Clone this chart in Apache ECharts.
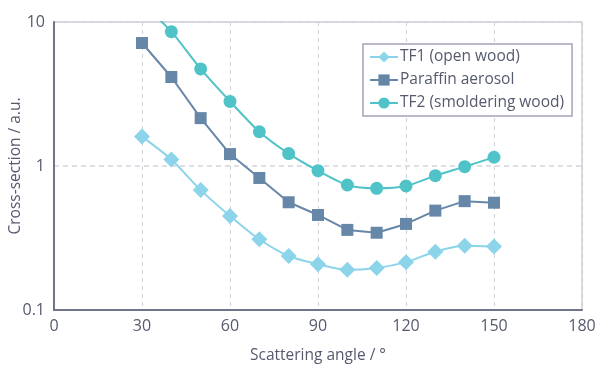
<!DOCTYPE html>
<html>
<head>
<meta charset="utf-8">
<script src="https://cdn.jsdelivr.net/npm/echarts@6/dist/echarts.min.js"></script>
<style>
  html, body { margin: 0; padding: 0; background: #fff; }
  #chart { width: 596px; height: 365px; }
</style>
</head>
<body>
<div id="chart"></div>
<script>
// scattering angles in degrees
const angles = [30, 40, 50, 60, 70, 80, 90, 100, 110, 120, 130, 140, 150];

// cross-section values (a.u.)
const tf1 = [1.6, 1.11, 0.68, 0.45, 0.31, 0.237, 0.208, 0.19, 0.196, 0.215, 0.254, 0.279, 0.276];
const paraffin = [7.15, 4.15, 2.15, 1.21, 0.826, 0.56, 0.457, 0.36, 0.344, 0.396, 0.49, 0.57, 0.556];
const tf2 = [13.5, 8.57, 4.72, 2.81, 1.73, 1.22, 0.928, 0.738, 0.70, 0.726, 0.857, 0.99, 1.15];

const seriesNames = ['TF1 (open wood)', 'Paraffin aerosol', 'TF2 (smoldering wood)'];
const xTicks = [0, 30, 60, 90, 120, 150, 180];
const yTicks = [0.1, 1, 10];

const textColor = '#555a6e';
const font = 'Open Sans';

function pairs(values) {
  return angles.map((a, i) => [a, values[i]]);
}

const myChart = echarts.init(document.getElementById('chart'));

const option = {
  animation: false,
  backgroundColor: '#fff',
  textStyle: {fontFamily: font},
  grid: {
    left: 54,
    right: 14,
    top: 22,
    bottom: 55,
    outerBoundsMode: 'none',
    containLabel: false,
    show: true,
    borderColor: '#cdcdd8',
    borderWidth: 1.5
  },
  legend: {
    orient: 'vertical',
    left: 363,
    top: 44,
    padding: [5, 8, 5, 6],
    itemGap: 7,
    itemWidth: 28,
    itemHeight: 14,
    borderColor: '#a3a3b8',
    borderWidth: 1.5,
    backgroundColor: '#fff',
    textStyle: {color: textColor, fontSize: 15.5, fontFamily: font, padding: [0, 0, 0, -3]},
    data: seriesNames
  },
  xAxis: {
    type: 'value',
    min: 0,
    max: 180,
    interval: 30,
    name: 'Scattering angle / °',
    nameLocation: 'middle',
    nameGap: 38,
    nameMoveOverlap: false,
    nameTextStyle: {color: textColor, fontSize: 15.5, fontFamily: font},
    axisLine: {lineStyle: {color: '#70758c', width: 2}},
    axisTick: {show: false},
    axisLabel: {
      color: textColor, fontSize: 16, margin: 8,
      formatter: v => xTicks.indexOf(v) >= 0 ? String(v) : ''
    },
    splitLine: {lineStyle: {color: '#d4d4dc', type: [4, 4], width: 1.2}}
  },
  yAxis: {
    type: 'log',
    logBase: 10,
    min: 0.1,
    max: 10,
    name: 'Cross-section / a.u.',
    nameLocation: 'middle',
    nameGap: 30,
    nameMoveOverlap: false,
    nameRotate: 90,
    nameTextStyle: {color: textColor, fontSize: 15.5, fontFamily: font},
    axisLine: {show: true, lineStyle: {color: '#70758c', width: 2}},
    axisTick: {show: false},
    axisLabel: {
      color: textColor, fontSize: 16, margin: 9,
      formatter: v => {
        const t = yTicks.find(y => Math.abs(y - v) < 1e-9);
        return t !== undefined ? String(t) : '';
      }
    },
    splitLine: {lineStyle: {color: '#d4d4dc', type: [5, 4], width: 1.5}},
    minorSplitLine: {show: false}
  },
  series: [
    {
      name: seriesNames[0],
      type: 'line',
      data: pairs(tf1),
      smooth: 0.25,
      symbol: 'diamond',
      symbolSize: 16,
      color: '#8bd4ea',
      lineStyle: {width: 2},
      z: 3
    },
    {
      name: seriesNames[1],
      type: 'line',
      data: pairs(paraffin),
      symbol: 'rect',
      symbolSize: 12,
      color: '#6787a8',
      lineStyle: {width: 2},
      z: 4
    },
    {
      name: seriesNames[2],
      type: 'line',
      data: pairs(tf2),
      smooth: 0.25,
      symbol: 'circle',
      symbolSize: 13,
      color: '#4fc3c7',
      lineStyle: {width: 2},
      clip: true,
      z: 5
    }
  ]
};

myChart.setOption(option);
</script>
</body>
</html>
